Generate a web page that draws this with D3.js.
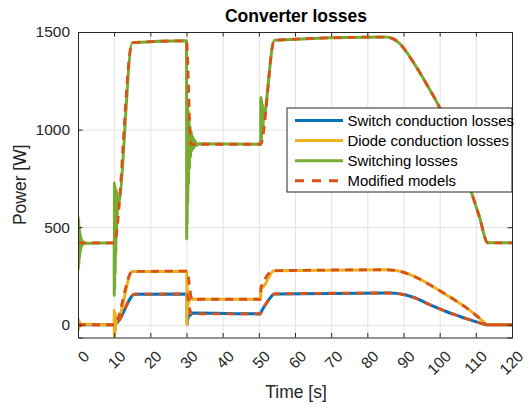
<!DOCTYPE html>
<html>
<head>
<meta charset="utf-8">
<script src="https://cdn.jsdelivr.net/npm/d3@7"></script>
<style>
  html, body { margin: 0; padding: 0; background: #fff; }
  svg { display: block; font-family: "Liberation Sans", Arial, Helvetica, sans-serif; }
</style>
</head>
<body>
<svg id="chart" width="528" height="405"></svg>
<script>
// ---------------- data ----------------
const xTicks = [0, 10, 20, 30, 40, 50, 60, 70, 80, 90, 100, 110, 120];
const yTicks = [0, 500, 1000, 1500];
const seriesNames = ["Switch conduction losses", "Diode conduction losses", "Switching losses", "Modified models"];

// smooth (model) curves: [time s, power W]
const switchCond = [[0,0],[10.2,0],[11,14],[15.7,157],[30.1,158],[31.3,56],[50.3,56],[51,78],[52,108],[53,135],[54.3,158],[86,163],[88,161],[90,155],[92,145],[94,132],[96,114],[98,97],[100,82],[102,67],[104,53],[106,40],[108,28],[110,16],[112,5],[113,0],[120,0]];
const diodeCond = [[0,0],[10,0],[15,273],[30.1,275],[31.5,131],[50.4,131],[50.6,192],[54.2,277],[85,282],[88,278],[90,269],[92,256],[94,239],[96,219],[98,197],[100,175],[102,152],[104,129],[106,105],[108,79],[110,50],[112,18],[113,0],[120,0]];
const switching = [[0,420],[10,420],[15,1445],[30,1455],[31.2,925],[50.5,925],[54.3,1458],[85,1474],[87,1466],[89,1440],[91,1393],[93,1337],[95,1277],[97,1213],[99,1148],[101,1072],[103,978],[105,878],[107,775],[109,666],[111,552],[113.3,420],[120,420]];

// transient oscillations seen only in the simulated (solid) curves
const switchCondTransient = [[30.2,0],[30.28,100],[30.36,25],[30.45,90],[30.55,35],[30.65,80],[30.8,45],[30.95,70],[31.15,50],[31.4,60]];
const diodeCondTransient = [[0.01,35],[0.08,-30],[0.16,30],[0.24,-22],[0.32,22],[0.42,-14],[0.52,12],[0.65,-6],[0.8,4],
  [10.02,75],[10.08,-66],[10.14,68],[10.2,-50],[10.28,58],[10.36,-30],[10.46,50],[10.56,0],[10.7,40],[10.85,25],
  [30.12,0],[30.18,200],[30.25,50],[30.32,180],[30.4,90],[30.5,165],[30.62,110],[30.75,155],[30.9,125],[31.05,148],
  [50.45,131],[50.5,175],[50.55,140],[50.62,185]];
const switchingTransient = [[0.01,555],[0.08,285],[0.16,540],[0.24,310],[0.32,510],[0.4,340],[0.5,480],[0.6,365],[0.7,460],[0.8,385],[0.9,445],[1.0,400],[1.15,432],[1.3,410],[1.5,424],[1.7,418],
  [10.02,150],[10.08,728],[10.14,180],[10.2,715],[10.28,260],[10.36,700],[10.45,360],[10.55,690],[10.65,470],[10.75,680],[10.85,560],[10.95,660],[11.1,620],
  [30.02,1170],[30.06,440],[30.12,1160],[30.18,520],[30.26,1130],[30.34,620],[30.44,1100],[30.54,720],[30.66,1060],[30.8,800],[30.95,1020],[31.1,860],[31.3,990],[31.5,890],[31.75,965],[32,905],[32.3,945],[32.7,918],[33.2,928],
  [50.55,1165],[50.6,930],[50.65,1160],[50.72,950],[50.8,1150],[50.9,990],[51.0,1130],[51.15,1010],[51.3,1100],[51.5,1055],[51.7,1080]];

// ---------------- layout / styles ----------------
const W = 528, H = 405;
const L = 78, R = 512, T = 32, B = 337.5;
const colors = { sw: "#0072BD", di: "#EDB120", sl: "#77AC30", mod: "#D95319" };
const axisColor = "#262626";

const svg = d3.select("#chart");
const x = d3.scaleLinear().domain([0, 120]).range([L, R]);
const y = d3.scaleLinear().domain([-65, 1500]).range([B, T]);

svg.append("rect").attr("x", 0).attr("y", 0).attr("width", W).attr("height", H).attr("fill", "#fff");

svg.append("defs").append("clipPath").attr("id", "clip")
  .append("rect").attr("x", L).attr("y", T).attr("width", R - L).attr("height", B - T);

// grid
const grid = svg.append("g");
grid.append("g").attr("transform", `translate(0,${B})`)
  .call(d3.axisBottom(x).tickValues(xTicks).tickSize(-(B - T)).tickFormat(""))
  .call(g => g.select(".domain").remove())
  .call(g => g.selectAll("line").attr("stroke", "#e3e3e3").attr("stroke-width", 1));
grid.append("g").attr("transform", `translate(${L},0)`)
  .call(d3.axisLeft(y).tickValues(yTicks).tickSize(-(R - L)).tickFormat(""))
  .call(g => g.select(".domain").remove())
  .call(g => g.selectAll("line").attr("stroke", "#e3e3e3").attr("stroke-width", 1));

// lines
const merge = (a, b) => a.concat(b).sort((p, q) => p[0] - q[0]);
const line = d3.line().x(d => x(d[0])).y(d => y(d[1])).curve(d3.curveMonotoneX);
const plot = svg.append("g").attr("clip-path", "url(#clip)");
const solid = [
  { data: merge(switchCond, switchCondTransient), color: colors.sw },
  { data: merge(diodeCond, diodeCondTransient), color: colors.di },
  { data: merge(switching, switchingTransient), color: colors.sl }
];
solid.forEach(s => plot.append("path").attr("d", line(s.data)).attr("fill", "none")
  .attr("stroke", s.color).attr("stroke-width", 3).attr("stroke-linejoin", "round"));
[switchCond, diodeCond, switching].forEach(d => plot.append("path").attr("d", line(d))
  .attr("fill", "none").attr("stroke", colors.mod).attr("stroke-width", 2.8)
  .attr("stroke-dasharray", "8,6").attr("stroke-linejoin", "round"));

// axes (box with inner ticks)
const tickLen = 4.5;
const fontTick = 15.5;
const xAxis = svg.append("g").attr("transform", `translate(0,${B})`)
  .call(d3.axisBottom(x).tickValues(xTicks).tickSize(-tickLen).tickFormat(d3.format("d")));
xAxis.selectAll("text")
  .attr("x", 0).attr("y", 0).attr("dy", "0.35em")
  .attr("text-anchor", "end")
  .attr("transform", "translate(8,16) rotate(-45)");
const yAxis = svg.append("g").attr("transform", `translate(${L},0)`)
  .call(d3.axisLeft(y).tickValues(yTicks).tickSize(-tickLen).tickPadding(8).tickFormat(d3.format("d")));
const xTop = svg.append("g").attr("transform", `translate(0,${T})`)
  .call(d3.axisTop(x).tickValues(xTicks).tickSize(-tickLen).tickFormat(""));
const yRight = svg.append("g").attr("transform", `translate(${R},0)`)
  .call(d3.axisRight(y).tickValues(yTicks).tickSize(-tickLen).tickFormat(""));
[xAxis, yAxis, xTop, yRight].forEach(g => {
  g.select(".domain").attr("stroke", axisColor).attr("stroke-width", 1);
  g.selectAll(".tick line").attr("stroke", axisColor).attr("stroke-width", 1);
  g.selectAll("text").attr("fill", axisColor).style("font-size", fontTick + "px")
    .style("font-family", '"Liberation Sans", Arial, sans-serif');
});

// titles
svg.append("text").attr("x", (L + R) / 2 + 1).attr("y", 22).attr("text-anchor", "middle")
  .style("font-size", "17.5px").style("font-weight", "bold").attr("fill", "#000").text("Converter losses");
svg.append("text").attr("x", (L + R) / 2 + 1).attr("y", 398).attr("text-anchor", "middle")
  .style("font-size", "17.5px").attr("fill", axisColor).text("Time [s]");
svg.append("text").attr("transform", `translate(26,${(T + B) / 2}) rotate(-90)`).attr("text-anchor", "middle")
  .style("font-size", "17.5px").attr("fill", axisColor).text("Power [W]");

// legend
const lg = svg.append("g");
lg.append("rect").attr("x", 287).attr("y", 108).attr("width", 225).attr("height", 84)
  .attr("fill", "#fff").attr("stroke", axisColor).attr("stroke-width", 1);
const legendStyles = [
  { color: colors.sw, dash: null },
  { color: colors.di, dash: null },
  { color: colors.sl, dash: null },
  { color: colors.mod, dash: "9,8" }
];
seriesNames.forEach((name, i) => {
  const cy = 120.5 + i * 20.1;
  lg.append("line").attr("x1", 295).attr("x2", 343).attr("y1", cy).attr("y2", cy)
    .attr("stroke", legendStyles[i].color).attr("stroke-width", 3)
    .attr("stroke-dasharray", legendStyles[i].dash);
  lg.append("text").attr("x", 347.5).attr("y", cy).attr("dy", "0.35em")
    .style("font-size", "14.9px").attr("fill", "#000").text(name);
});
</script>
</body>
</html>
